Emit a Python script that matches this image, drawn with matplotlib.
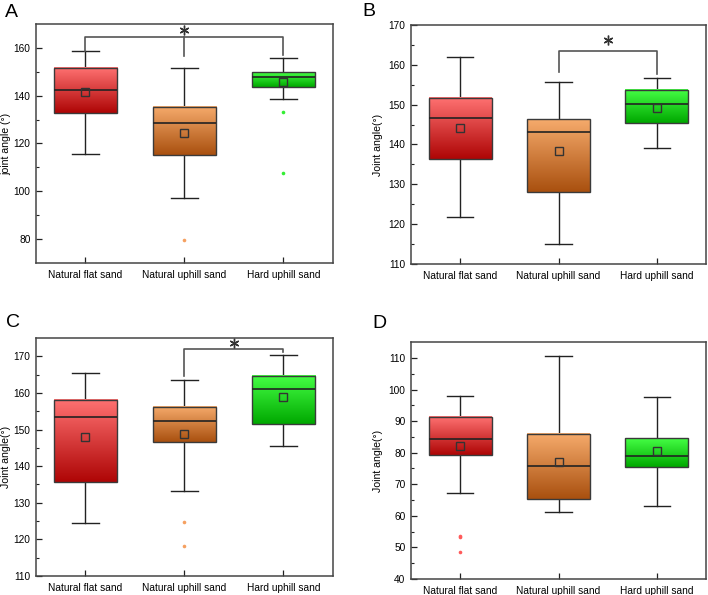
import numpy as np
import matplotlib.pyplot as plt
from matplotlib.colors import LinearSegmentedColormap

plt.rcParams["font.family"] = ["Liberation Sans", "DejaVu Sans"]

groups = ["Natural flat sand", "Natural uphill sand", "Hard uphill sand"]

# per panel: whisker low, q1, median, q3, whisker high, mean, outliers (per group)
a_whislo = [115.6, 97.2, 138.7]
a_q1 = [132.7, 115.2, 143.7]
a_med = [142.4, 128.5, 148.0]
a_q3 = [151.6, 135.4, 149.8]
a_whishi = [158.5, 151.6, 155.7]
a_mean = [141.5, 124.4, 145.6]
a_fliers = [[], [79.8], [133.1, 107.6]]

b_whislo = [121.8, 114.9, 139.2]
b_q1 = [136.3, 128.0, 145.3]
b_med = [146.6, 143.1, 150.1]
b_q3 = [151.7, 146.3, 153.6]
b_whishi = [161.9, 155.7, 156.8]
b_mean = [144.2, 138.4, 149.1]
b_fliers = [[], [], []]

c_whislo = [124.6, 133.2, 145.4]
c_q1 = [135.6, 146.5, 151.4]
c_med = [153.5, 152.3, 161.1]
c_q3 = [158.0, 156.1, 164.7]
c_whishi = [165.5, 163.5, 170.4]
c_mean = [148.0, 148.9, 158.9]
c_fliers = [[], [124.7, 118.3], []]

d_whislo = [67.2, 61.3, 63.2]
d_q1 = [79.2, 65.2, 75.5]
d_med = [84.2, 75.8, 78.8]
d_q3 = [91.3, 85.9, 84.5]
d_whishi = [98.0, 110.5, 97.7]
d_mean = [82.2, 77.1, 80.5]
d_fliers = [[53.7, 53.2, 48.7], [], []]

top_colors = ["#ff7272", "#f6ab6c", "#45ff45"]
bottom_colors = ["#ae0505", "#a9500f", "#00a800"]
flier_colors = ["#ff5a5a", "#f5a060", "#33ee33"]


def draw_panel(ax, whislo, q1, med, q3, whishi, mean, fliers, ylim, yticks,
               ylabel, labelpad, letter, letter_xy, brackets):
  pos = np.arange(1, len(groups) + 1)
  stats = []
  for i in range(len(groups)):
    stats.append(dict(med=med[i], q1=q1[i], q3=q3[i], whislo=whislo[i],
                      whishi=whishi[i], mean=mean[i], fliers=[]))
  width = 0.64
  ax.bxp(stats, positions=pos, widths=width, capwidths=0.27, showmeans=False,
         showfliers=False, patch_artist=True,
         boxprops=dict(facecolor="none", edgecolor="#3a3a3a", linewidth=1.0,
                       zorder=4),
         medianprops=dict(color="#222222", linewidth=1.2, zorder=5),
         whiskerprops=dict(color="#222222", linewidth=1.0),
         capprops=dict(color="#222222", linewidth=1.0))
  for i, x in enumerate(pos):
    cmap = LinearSegmentedColormap.from_list(
      "g%d" % i, [bottom_colors[i], top_colors[i]])
    grad = np.linspace(0, 1, 128).reshape(-1, 1)
    ax.imshow(grad, extent=[x - width / 2, x + width / 2, q1[i], q3[i]],
              origin="lower", cmap=cmap, aspect="auto", zorder=3)
    ax.plot(x, mean[i], marker="s", markersize=5.5, markerfacecolor="none",
            markeredgecolor="#333333", markeredgewidth=1.0, zorder=6)
    if fliers[i]:
      ax.plot([x] * len(fliers[i]), fliers[i], "o", markersize=2.6,
              color=flier_colors[i], markeredgewidth=0, zorder=6)

  for (i, j, ytop, yl, yr, ymid, ystar) in brackets:
    ax.plot([i, i, j, j], [yl, ytop, ytop, yr], color="#555555", lw=1.2,
            zorder=2)
    if ymid is not None:
      m = (i + j) / 2
      ax.plot([m, m], [ytop, ymid], color="#555555", lw=1.2, zorder=2)
    ax.plot((i + j) / 2, ystar, marker=(6, 2, 0), markersize=7,
            markeredgewidth=1.0, color="#333333", clip_on=False)

  ax.set_xlim(0.5, 3.5)
  ax.set_ylim(*ylim)
  ax.set_yticks(yticks)
  step = yticks[1] - yticks[0]
  ax.set_yticks([t + step / 2 for t in yticks if t + step / 2 < ylim[1]],
                minor=True)
  ax.set_xticks(pos)
  ax.set_xticklabels(groups)
  ax.tick_params(axis="both", which="major", direction="in", length=4,
                 width=0.9, labelsize=7.3, colors="#222222",
                 labelcolor="black")
  ax.tick_params(axis="y", which="minor", direction="in", length=2.5,
                 width=0.8, colors="#222222")
  ax.tick_params(axis="x", which="minor", bottom=False)
  ax.tick_params(axis="x", pad=5)
  ax.tick_params(axis="y", pad=4)
  for s in ax.spines.values():
    s.set_color("#454545")
    s.set_linewidth(1.1)
  ax.set_ylabel(ylabel, fontsize=7.6, labelpad=labelpad)
  ax.text(letter_xy[0], 1 + letter_xy[1], letter, transform=ax.transAxes,
          fontsize=14, ha="left", va="bottom")


fig = plt.figure(figsize=(7.08, 5.95), dpi=100)
ax_a = fig.add_axes([0.0508, 0.558, 0.4195, 0.4017])
ax_b = fig.add_axes([0.5805, 0.5563, 0.4167, 0.4017])
ax_c = fig.add_axes([0.0508, 0.0319, 0.4195, 0.400])
ax_d = fig.add_axes([0.5805, 0.0269, 0.4167, 0.398])

draw_panel(ax_a, a_whislo, a_q1, a_med, a_q3, a_whishi, a_mean, a_fliers,
           (70, 170), [80, 100, 120, 140, 160], "joint angle (°)", 1.5, "A",
           (-0.104, 0.012), [(1, 3, 164.5, 158.5, 157.0, 156.4, 167.3)])
draw_panel(ax_b, b_whislo, b_q1, b_med, b_q3, b_whishi, b_mean, b_fliers,
           (110, 170), [110, 120, 130, 140, 150, 160, 170], "Joint angle(°)",
           4, "B", (-0.166, 0.022), [(2, 3, 163.5, 158.3, 157.7, None, 166.2)])
draw_panel(ax_c, c_whislo, c_q1, c_med, c_q3, c_whishi, c_mean, c_fliers,
           (110, 175), [110, 120, 130, 140, 150, 160, 170], "Joint angle(°)",
           1.5, "C", (-0.1, 0.028), [(2, 3, 172.1, 164.6, 171.1, None, 173.6)])
draw_panel(ax_d, d_whislo, d_q1, d_med, d_q3, d_whishi, d_mean, d_fliers,
           (40, 115), [40, 50, 60, 70, 80, 90, 100, 110], "Joint angle(°)",
           4, "D", (-0.132, 0.045), [])

fig.savefig("out.png", dpi=100)
